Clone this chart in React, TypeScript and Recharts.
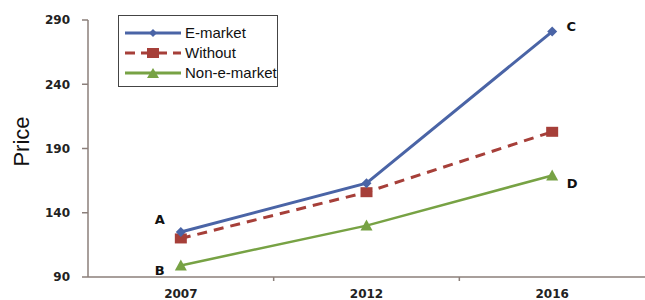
import React from 'react';
import { LineChart, Line, XAxis, YAxis, Legend } from 'recharts';

// price by year
const years = ['2007', '2012', '2016'];
const eMarket = [125, 163, 281];
const without = [120, 156, 203];
const nonEMarket = [99, 130, 169];
const yTicks = [90, 140, 190, 240, 290];

// point annotations
const eMarketTags = ['A', '', 'C'];
const nonEMarketTags = ['B', '', 'D'];

const BLUE = '#4a64a6';
const RED = '#a63f39';
const GREEN = '#77a244';
const AXIS = '#8b7f7a';

const data = years.map((year, i) => ({
  pos: i + 0.5,
  year,
  eMarket: eMarket[i],
  without: without[i],
  nonEMarket: nonEMarket[i],
}));

// x ticks: labels at band centres, short marks at band edges
const xTicks = [0.5, 1, 1.5, 2, 2.5];

const XTick = (props: any) => {
  const { x, y, payload } = props;
  const v = payload.value;
  if (Number.isInteger(v)) {
    return <line x1={x} x2={x} y1={y} y2={y + 4} stroke={AXIS} strokeWidth={1.5} />;
  }
  return (
    <text
      x={x}
      y={y + 21}
      textAnchor="middle"
      fontFamily="DejaVu Sans"
      fontWeight="bold"
      fontSize={12}
      fill="#222"
    >
      {years[Math.floor(v)]}
    </text>
  );
};

const Diamond = (props: any) => {
  const { cx, cy, index } = props;
  if (cx == null || cy == null) return null;
  return (
    <path
      key={index}
      d={`M${cx},${cy - 5}L${cx + 5},${cy}L${cx},${cy + 5}L${cx - 5},${cy}Z`}
      fill={BLUE}
    />
  );
};

const Square = (props: any) => {
  const { cx, cy, index } = props;
  if (cx == null || cy == null) return null;
  return <rect key={index} x={cx - 6} y={cy - 5} width={12} height={10} fill={RED} />;
};

const Triangle = (props: any) => {
  const { cx, cy, index } = props;
  if (cx == null || cy == null) return null;
  return (
    <path
      key={index}
      d={`M${cx},${cy - 6}L${cx + 6},${cy + 5}L${cx - 6},${cy + 5}Z`}
      fill={GREEN}
    />
  );
};

const tagLabel = (tags: string[], offsets: number[][]) => (props: any) => {
  const { x, y, index } = props;
  const tag = tags[index];
  if (!tag) return <g key={index} />;
  const [dx, dy] = offsets[index];
  return (
    <text
      key={index}
      x={x + dx}
      y={y + dy}
      textAnchor="middle"
      dominantBaseline="central"
      fontFamily="DejaVu Sans"
      fontWeight="bold"
      fontSize={13}
      fill="#111"
    >
      {tag}
    </text>
  );
};

const PriceLabel = (props: any) => {
  const { viewBox } = props;
  const cx = viewBox.x + 21;
  const cy = viewBox.y + viewBox.height / 2 - 7;
  return (
    <text
      x={cx}
      y={cy}
      transform={`rotate(-90, ${cx}, ${cy})`}
      textAnchor="middle"
      dominantBaseline="central"
      fontFamily="Liberation Sans, Arial, sans-serif"
      fontSize={22}
      fill="#111"
    >
      Price
    </text>
  );
};

const legendRows = [
  { name: 'E-market', color: BLUE, marker: 'diamond', dash: undefined },
  { name: 'Without', color: RED, marker: 'square', dash: '10 6' },
  { name: 'Non-e-market', color: GREEN, marker: 'triangle', dash: undefined },
];

const LegendBox = () => (
  <div
    style={{
      width: 160,
      height: 72,
      border: '1px solid #444',
      background: '#fff',
      boxSizing: 'border-box',
      paddingTop: 7,
    }}
  >
    {legendRows.map((r) => (
      <div key={r.name} style={{ display: 'flex', alignItems: 'center', height: 20, whiteSpace: 'nowrap' }}>
        <svg width={62} height={14} style={{ marginLeft: 4, flexShrink: 0 }}>
          <line
            x1={2}
            x2={58}
            y1={7}
            y2={7}
            stroke={r.color}
            strokeWidth={3}
            strokeDasharray={r.dash}
          />
          {r.marker === 'diamond' && <path d="M30,3L34,7L30,11L26,7Z" fill={r.color} />}
          {r.marker === 'square' && <rect x={24} y={2} width={12} height={10} fill={r.color} />}
          {r.marker === 'triangle' && <path d="M30,2L36,12L24,12Z" fill={r.color} />}
        </svg>
        <span
          style={{
            fontFamily: 'Liberation Sans, Arial, sans-serif',
            fontSize: 15,
            color: '#111',
            lineHeight: '20px',
            whiteSpace: 'nowrap',
          }}
        >
          {r.name}
        </span>
      </div>
    ))}
  </div>
);

export default function App() {
  return (
    <div style={{ position: 'absolute', left: 0, top: 0, width: 645, height: 300, background: '#fff' }}>
      <LineChart width={645} height={300} data={data} margin={{ top: 20, right: 0, bottom: 0, left: 0 }}>
        <XAxis
          dataKey="pos"
          type="number"
          domain={[0, 3]}
          ticks={xTicks}
          interval={0}
          tickLine={false}
          tickSize={0}
          tickMargin={0}
          tick={<XTick />}
          axisLine={{ stroke: AXIS, strokeWidth: 1.5 }}
          height={23}
        />
        <YAxis
          type="number"
          domain={[90, 290]}
          ticks={yTicks}
          interval={0}
          width={88}
          tickSize={6}
          tickMargin={12}
          tickLine={{ stroke: AXIS, strokeWidth: 1.5 }}
          axisLine={{ stroke: AXIS, strokeWidth: 1.5 }}
          tick={{ fontFamily: 'DejaVu Sans', fontWeight: 'bold', fontSize: 12, fill: '#222' }}
          label={<PriceLabel />}
        />
        <Legend
          layout="vertical"
          align="center"
          verticalAlign="middle"
          content={<LegendBox />}
          wrapperStyle={{ position: 'absolute', left: 118, top: 15, width: 160, height: 72 }}
        />
        <Line
          dataKey="without"
          name="Without"
          stroke={RED}
          strokeWidth={3}
          strokeDasharray="10 7"
          dot={<Square />}
          isAnimationActive={false}
        />
        <Line
          dataKey="nonEMarket"
          name="Non-e-market"
          stroke={GREEN}
          strokeWidth={2.5}
          dot={<Triangle />}
          label={tagLabel(nonEMarketTags, [[-21, 5], [0, 0], [20, 8]])}
          isAnimationActive={false}
        />
        <Line
          dataKey="eMarket"
          name="E-market"
          stroke={BLUE}
          strokeWidth={3}
          dot={<Diamond />}
          label={tagLabel(eMarketTags, [[-21, -13], [0, 0], [19, -5]])}
          isAnimationActive={false}
        />
      </LineChart>
    </div>
  );
}
